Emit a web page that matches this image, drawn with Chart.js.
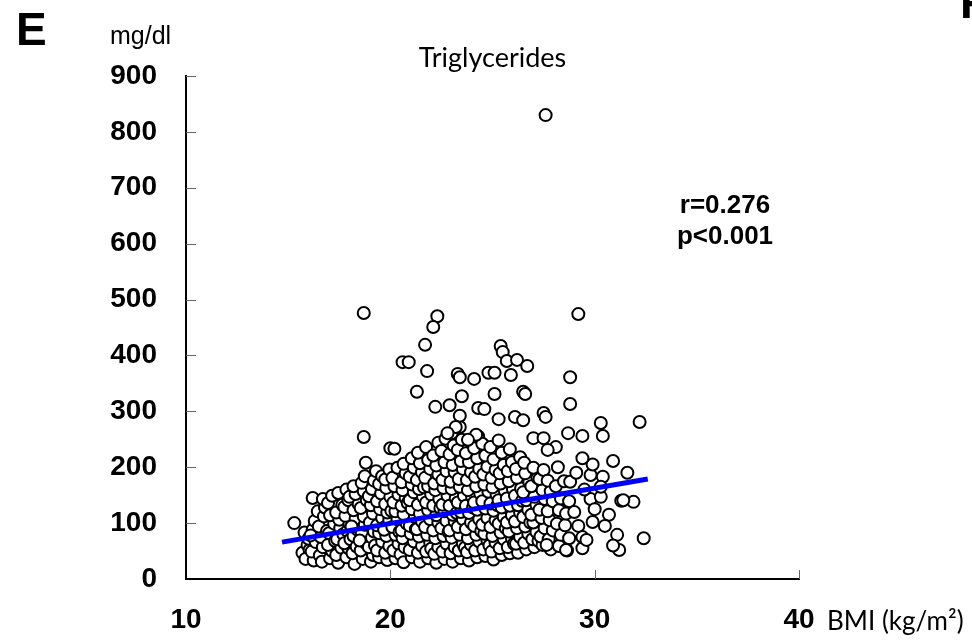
<!DOCTYPE html>
<html lang="en">
<head>
<meta charset="UTF-8">
<title>Triglycerides vs BMI</title>
<script src="https://cdn.jsdelivr.net/npm/chart.js"></script>
<style>
body { margin:0; background:#fff; }
#wrap { width:972px; height:641px; }
</style>
</head>
<body>
<div id="wrap"><canvas id="tgChart" width="972" height="641"></canvas></div>
<script>
// axis ticks
const bmiTicks = [10, 20, 30, 40];
const tgTicks = [0, 100, 200, 300, 400, 500, 600, 700, 800, 900];

// main cloud of subjects, [BMI, triglycerides]
const clusterPoints = [
  [15.7,47],[15.95,61],[15.8,83],[16.05,52],[15.85,36],[16.0,72],[15.3,100],
  [16.25,33],[16.15,49],[16.35,66],[16.2,88],[16.3,104],[16.2,145],[16.45,121],[16.1,78],
  [16.55,42],[16.7,57],[16.6,75],[16.5,94],[16.75,112],[16.8,128],[16.7,143],[16.65,31],[16.9,86],
  [17.05,37],[17.15,50],[16.95,61],[17.0,82],[17.25,99],[17.05,114],[16.95,136],[17.15,149],[17.3,68],
  [17.45,29],[17.35,43],[17.6,56],[17.4,71],[17.55,91],[17.5,106],[17.35,119],[17.65,133],[17.45,154],[17.7,80],
  [17.85,39],[17.95,55],[17.75,64],[17.9,86],[18.0,99],[17.8,113],[17.75,129],[17.95,141],[17.85,160],[18.0,147],[18.05,71],
  [18.25,27],[18.15,46],[18.35,58],[18.2,77],[18.4,88],[18.3,108],[18.2,123],[18.45,134],[18.3,152],[18.2,166],[18.1,94],
  [18.65,36],[18.55,51],[18.8,64],[18.6,82],[18.75,97],[18.7,112],[18.55,127],[18.85,141],[18.7,157],[18.6,172],[18.75,184],[18.8,208],[18.5,69],
  [19.05,31],[19.15,43],[18.95,57],[19.1,74],[19.2,85],[19.0,101],[19.15,117],[19.05,132],[18.95,148],[19.1,161],[19.2,176],[19.25,60],[19.3,193],
  [19.45,39],[19.35,51],[19.6,67],[19.45,82],[19.35,96],[19.6,109],[19.5,125],[19.35,139],[19.55,153],[19.45,170],[19.6,184],[19.7,92],
  [19.85,34],[19.75,47],[19.95,59],[19.8,77],[19.7,88],[19.95,105],[19.85,119],[19.75,134],[20.0,147],[19.8,163],[19.75,178],[19.95,196],[20.05,122],
  [20.25,37],[20.15,51],[20.4,63],[20.25,79],[20.1,93],[20.35,107],[20.25,121],[20.15,137],[20.4,151],[20.2,166],[20.1,181],[20.35,199],[20.45,84],[20.5,44],
  [20.65,30],[20.7,57],[20.6,73],[20.55,87],[20.8,99],[20.65,116],[20.55,131],[20.75,145],[20.6,159],[20.55,173],[20.75,189],[20.65,206],[20.85,136],
  [21.05,39],[20.95,52],[21.15,67],[21.0,81],[20.95,95],[21.2,111],[21.05,125],[20.95,141],[21.15,155],[21.05,169],[20.95,183],[21.15,199],[21.05,216],[21.25,89],
  [21.45,31],[21.35,47],[21.55,59],[21.4,76],[21.3,89],[21.55,103],[21.45,117],[21.35,133],[21.6,147],[21.4,161],[21.3,177],[21.55,191],[21.45,207],[21.35,226],[21.65,164],
  [21.85,37],[21.75,49],[21.95,65],[21.8,79],[21.7,93],[21.95,107],[21.85,123],[21.75,137],[22.0,151],[21.85,166],[21.7,181],[21.95,197],[21.85,213],[21.75,236],[22.0,54],
  [22.25,29],[22.15,45],[22.35,57],[22.2,73],[22.1,87],[22.35,101],[22.25,114],[22.1,131],[22.4,143],[22.2,159],[22.15,171],[22.35,187],[22.25,203],[22.1,221],[22.35,244],[22.45,127],
  [22.65,36],[22.55,49],[22.75,63],[22.6,77],[22.5,91],[22.75,104],[22.65,121],[22.55,133],[22.8,149],[22.6,163],[22.55,177],[22.75,193],[22.65,209],[22.5,229],[22.7,251],[22.85,84],
  [23.05,31],[22.95,46],[23.15,57],[23.0,74],[22.9,87],[23.15,103],[23.05,115],[22.9,131],[23.2,144],[23.0,161],[22.95,174],[23.15,191],[23.05,204],[22.9,223],[23.1,239],[23.0,261],[23.25,118],
  [23.45,37],[23.35,51],[23.55,63],[23.4,79],[23.3,93],[23.55,107],[23.45,120],[23.3,137],[23.6,149],[23.4,165],[23.35,179],[23.55,197],[23.45,211],[23.3,231],[23.5,249],[23.4,272],[23.65,56],
  [23.85,33],[23.75,48],[23.95,61],[23.8,73],[23.7,89],[23.95,101],[23.85,118],[23.7,131],[24.0,147],[23.8,159],[23.75,177],[23.95,191],[23.85,209],[23.7,225],[23.9,246],[24.05,128],
  [24.25,39],[24.15,51],[24.35,67],[24.2,79],[24.1,95],[24.35,107],[24.25,124],[24.1,137],[24.4,153],[24.2,166],[24.15,183],[24.35,197],[24.25,216],[24.1,234],[24.3,255],[24.45,86],
  [24.65,41],[24.55,53],[24.75,69],[24.6,81],[24.5,97],[24.75,109],[24.65,126],[24.5,139],[24.8,156],[24.6,169],[24.55,187],[24.75,201],[24.65,221],[24.5,242],[24.85,60],
  [25.05,35],[24.95,49],[25.15,65],[25.0,77],[24.9,93],[25.15,105],[25.05,122],[24.9,135],[25.2,151],[25.0,164],[24.95,181],[25.15,195],[25.05,214],[24.9,236],[25.25,132],
  [25.45,43],[25.35,55],[25.55,71],[25.4,83],[25.3,99],[25.55,111],[25.45,128],[25.3,141],[25.6,158],[25.4,171],[25.35,189],[25.55,204],[25.45,226],[25.3,248],[25.65,91],
  [25.85,46],[25.75,57],[25.95,73],[25.8,85],[25.7,101],[25.95,114],[25.85,131],[25.7,144],[26.0,161],[25.8,175],[25.75,193],[25.95,209],[25.85,232],[26.05,63],
  [26.25,47],[26.15,63],[26.35,75],[26.2,91],[26.1,103],[26.35,119],[26.25,132],[26.1,149],[26.4,162],[26.2,181],[26.15,197],[26.35,218],[26.45,140],
  [26.65,53],[26.55,65],[26.75,81],[26.6,94],[26.5,111],[26.75,124],[26.65,141],[26.5,155],[26.8,173],[26.6,189],[26.55,208],[26.85,101],
  [27.05,57],[26.95,71],[27.15,84],[27.0,101],[26.9,115],[27.15,133],[27.05,147],[26.9,166],[27.2,181],[27.0,199],[27.25,68],
  [27.45,61],[27.35,76],[27.55,91],[27.4,109],[27.3,124],[27.55,143],[27.45,159],[27.3,179],[27.5,195],
  [27.85,53],[27.75,71],[27.95,87],[27.8,105],[27.7,121],[27.95,139],[27.85,157],[27.7,176],[27.65,61],
  [28.25,59],[28.35,79],[28.15,99],[28.25,123],[28.35,144],[28.1,166],[28.2,200],
  [28.65,51],[28.75,73],[28.55,96],[28.6,117],[28.75,139],[28.5,175]
];

// sparser subjects on the high-BMI side
const rightPoints = [
  [28.8,174],[29.1,190],[29.8,186],[30.4,183],[29.8,143],[30.3,147],[31.3,140],[31.9,138],
  [29.9,102],[30.7,115],[31.1,79],[32.4,73],[31.2,52],[29.4,55],[29.4,75],[28.6,52],
  [29.0,120],[29.5,160],[29.2,95],[30.0,125],[29.6,70],[30.5,95],[30.9,60],[29.9,205],
  [30.3,165],[31.6,190],[30.9,211],[29.4,216],[28.1,236],[27.7,231],[28.7,261],[29.4,256],
  [30.3,279],[30.4,256],[27.0,252],[27.5,252],[31.4,141]
];

// high triglyceride values
const outlierPoints = [
  [27.6,830],[29.2,474],[18.7,476],[22.3,470],[22.1,451],[21.7,419],[25.4,417],[25.5,406],
  [20.6,388],[20.9,388],[25.7,390],[26.2,392],[26.7,381],[21.8,372],[25.9,365],[23.3,367],
  [23.4,361],[24.1,358],[24.8,369],[25.1,369],[28.8,361],[21.3,335],[26.5,335],[26.6,331],
  [25.1,331],[23.5,327],[22.2,308],[22.9,311],[24.3,306],[24.6,304],[28.8,313],[23.4,292],
  [25.3,286],[26.1,290],[26.5,284],[27.5,297],[27.6,290],[32.2,281],[23.2,272],[22.8,261],
  [24.2,258],[23.8,249],[18.7,254],[20.0,234],[20.2,233]
];

// least-squares fit drawn across the BMI range
const fitBmi = [14.7, 32.6];
const fitTg = [66, 179];

const allPoints = clusterPoints.concat(rightPoints, outlierPoints)
  .map(p => ({x: p[0], y: p[1]}));
const fitLine = fitBmi.map((b, i) => ({x: b, y: fitTg[i]}));

const tickFont = {family: 'Arial, "Liberation Sans", sans-serif', size: 28, weight: 'bold'};

// inward tick marks and the panel texts
const panelDecor = {
  id: 'panelDecor',
  afterDraw(chart) {
    const {ctx, chartArea: a, scales} = chart;
    ctx.save();
    ctx.strokeStyle = '#666';
    ctx.lineWidth = 1;
    scales.y.ticks.forEach(t => {
      if (t.value === 0) return;
      const py = Math.round(scales.y.getPixelForValue(t.value)) + 0.5;
      ctx.beginPath(); ctx.moveTo(a.left, py); ctx.lineTo(a.left + 10, py); ctx.stroke();
    });
    scales.x.ticks.forEach(t => {
      if (t.value === 10) return;
      const px = Math.round(scales.x.getPixelForValue(t.value)) + 0.5;
      ctx.beginPath(); ctx.moveTo(px, a.bottom); ctx.lineTo(px, a.bottom - 9); ctx.stroke();
    });

    ctx.fillStyle = '#000';
    ctx.textBaseline = 'alphabetic';
    ctx.textAlign = 'left';
    ctx.font = 'bold 46px Arial, "Liberation Sans", sans-serif';
    ctx.fillText('E', 16, 45);
    ctx.fillText('F', 960, 18);
    ctx.font = '25px Arial, "Liberation Sans", sans-serif';
    ctx.fillText('mg/dl', 110, 44);
    ctx.font = '26px Lato, sans-serif';
    ctx.fillText('BMI (kg/m²)', 827, 630);
    ctx.textAlign = 'center';
    ctx.font = '27px Lato, sans-serif';
    ctx.fillText('Triglycerides', (a.left + a.right) / 2, 67);
    ctx.font = 'bold 26px Arial, "Liberation Sans", sans-serif';
    ctx.fillText('r=0.276', 725, 213);
    ctx.fillText('p<0.001', 725, 244);
    ctx.restore();
  }
};

new Chart(document.getElementById('tgChart'), {
  type: 'scatter',
  data: {
    datasets: [
      {
        type: 'line',
        data: fitLine,
        borderColor: '#0000ff',
        borderWidth: 5,
        pointRadius: 0,
        fill: false,
        order: 0
      },
      {
        data: allPoints,
        pointRadius: 6,
        pointBorderWidth: 2,
        pointBackgroundColor: '#fff',
        pointBorderColor: '#000',
        order: 1
      }
    ]
  },
  options: {
    responsive: false,
    animation: false,
    layout: {padding: {top: 76, right: 173, left: 0, bottom: 0}},
    plugins: {legend: {display: false}, tooltip: {enabled: false}},
    scales: {
      x: {
        type: 'linear',
        min: 10, max: 40,
        afterFit: s => { s.height = 62; },
        afterBuildTicks: s => { s.ticks = bmiTicks.map(v => ({value: v})); },
        grid: {display: false, drawTicks: false},
        border: {display: true, color: '#000', width: 2},
        ticks: {color: '#000', font: tickFont, padding: 24, maxRotation: 0}
      },
      y: {
        min: 0, max: 900,
        afterFit: s => { s.width = 186; },
        afterBuildTicks: s => { s.ticks = tgTicks.map(v => ({value: v})); },
        grid: {display: false, drawTicks: false},
        border: {display: true, color: '#000', width: 2},
        ticks: {color: '#000', font: tickFont, padding: 29}
      }
    }
  },
  plugins: [panelDecor]
});
</script>
</body>
</html>
